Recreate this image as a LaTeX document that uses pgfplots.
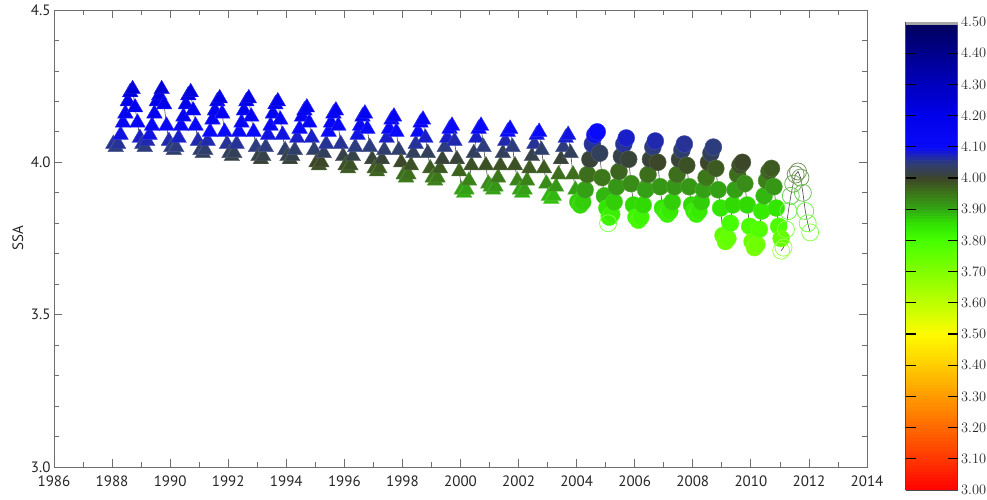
\documentclass[border=0pt]{standalone}
\usepackage{fontspec}
\setmainfont{PT Sans}
\usepackage{pgfplots}
\usepackage{pgfplotstable}
\pgfplotsset{compat=1.18}

% colours sampled every 0.05 from 3.00 to 4.50
\pgfplotsset{colormap={ssa}{
 rgb255=(255,0,0) rgb255=(255,28,0) rgb255=(255,55,0) rgb255=(255,80,0)
 rgb255=(255,105,0) rgb255=(255,130,0) rgb255=(255,155,0) rgb255=(255,180,0)
 rgb255=(255,205,0) rgb255=(255,228,0) rgb255=(255,250,0) rgb255=(222,255,0)
 rgb255=(190,255,0) rgb255=(160,255,0) rgb255=(130,255,0) rgb255=(100,255,0)
 rgb255=(70,255,0) rgb255=(50,230,0) rgb255=(50,170,20) rgb255=(60,120,25)
 rgb255=(60,70,40) rgb255=(45,60,125) rgb255=(10,10,250) rgb255=(5,5,243)
 rgb255=(0,0,235) rgb255=(0,0,212) rgb255=(0,0,190) rgb255=(0,0,165)
 rgb255=(0,0,140) rgb255=(0,0,115) rgb255=(0,0,90)}}

\definecolor{axgray}{RGB}{110,110,110}
\definecolor{linegray}{RGB}{70,70,70}

% Triangles (first instrument)
\pgfplotstableread{
x y
1988.042 4.06
1988.125 4.05
1988.208 4.06
1988.292 4.09
1988.375 4.13
1988.458 4.16
1988.542 4.20
1988.625 4.23
1988.708 4.24
1988.792 4.18
1988.875 4.13
1988.958 4.08
1989.042 4.06
1989.125 4.05
1989.208 4.07
1989.292 4.09
1989.375 4.12
1989.458 4.16
1989.542 4.20
1989.625 4.22
1989.708 4.24
1989.792 4.19
1989.875 4.12
1989.958 4.07
1990.042 4.05
1990.125 4.04
1990.208 4.05
1990.292 4.08
1990.375 4.12
1990.458 4.15
1990.542 4.19
1990.625 4.22
1990.708 4.23
1990.792 4.17
1990.875 4.12
1990.958 4.07
1991.042 4.04
1991.125 4.03
1991.208 4.04
1991.292 4.07
1991.375 4.10
1991.458 4.14
1991.542 4.17
1991.625 4.20
1991.708 4.21
1991.792 4.16
1991.875 4.10
1991.958 4.06
1992.042 4.03
1992.125 4.02
1992.208 4.03
1992.292 4.06
1992.375 4.10
1992.458 4.13
1992.542 4.17
1992.625 4.20
1992.708 4.21
1992.792 4.15
1992.875 4.10
1992.958 4.05
1993.042 4.02
1993.125 4.01
1993.208 4.02
1993.292 4.05
1993.375 4.09
1993.458 4.12
1993.542 4.16
1993.625 4.19
1993.708 4.20
1993.792 4.14
1993.875 4.09
1993.958 4.04
1994.042 4.02
1994.125 4.01
1994.208 4.02
1994.292 4.04
1994.375 4.08
1994.458 4.11
1994.542 4.15
1994.625 4.17
1994.708 4.18
1994.792 4.13
1994.875 4.08
1994.958 4.04
1995.042 4.00
1995.125 3.99
1995.208 4.00
1995.292 4.03
1995.375 4.06
1995.458 4.10
1995.542 4.13
1995.625 4.16
1995.708 4.17
1995.792 4.12
1995.875 4.06
1995.958 4.02
1996.042 3.99
1996.125 3.98
1996.208 3.99
1996.292 4.02
1996.375 4.05
1996.458 4.09
1996.542 4.12
1996.625 4.15
1996.708 4.16
1996.792 4.11
1996.875 4.05
1996.958 4.01
1997.042 3.98
1997.125 3.97
1997.208 3.98
1997.292 4.01
1997.375 4.04
1997.458 4.08
1997.542 4.11
1997.625 4.14
1997.708 4.15
1997.792 4.10
1997.875 4.04
1997.958 4.00
1998.042 3.96
1998.125 3.95
1998.208 3.96
1998.292 3.99
1998.375 4.03
1998.458 4.06
1998.542 4.10
1998.625 4.13
1998.708 4.14
1998.792 4.08
1998.875 4.03
1998.958 3.98
1999.042 3.95
1999.125 3.94
1999.208 3.95
1999.292 3.98
1999.375 4.01
1999.458 4.05
1999.542 4.08
1999.625 4.11
1999.708 4.12
1999.792 4.07
1999.875 4.01
1999.958 3.97
2000.042 3.91
2000.125 3.90
2000.208 3.91
2000.292 3.94
2000.375 3.99
2000.458 4.03
2000.542 4.08
2000.625 4.11
2000.708 4.12
2000.792 4.05
2000.875 3.99
2000.958 3.93
2001.042 3.92
2001.125 3.91
2001.208 3.92
2001.292 3.95
2001.375 3.99
2001.458 4.03
2001.542 4.07
2001.625 4.10
2001.708 4.11
2001.792 4.05
2001.875 3.99
2001.958 3.94
2002.042 3.91
2002.125 3.90
2002.208 3.91
2002.292 3.94
2002.375 3.98
2002.458 4.02
2002.542 4.06
2002.625 4.09
2002.708 4.10
2002.792 4.04
2002.875 3.98
2002.958 3.93
2003.042 3.89
2003.125 3.88
2003.208 3.89
2003.292 3.92
2003.375 3.96
2003.458 4.01
2003.542 4.05
2003.625 4.08
2003.708 4.09
2003.792 4.03
2003.875 3.96
2003.958 3.91
2004.042 3.88
2004.125 3.87
2004.208 3.88
2004.292 3.91
}\tri

% isolated triangles
\pgfplotstableread{
x y
2005.100 3.84
2006.350 3.93
}\trix

% filled circles (second instrument)
\pgfplotstableread{
x y
2004.042 3.87
2004.125 3.86
2004.208 3.87
2004.292 3.91
2004.375 3.96
2004.458 4.01
2004.542 4.06
2004.625 4.09
2004.708 4.10
2004.792 4.03
2004.875 3.95
2004.958 3.89
2005.042 3.85
2005.125 3.82
2005.208 3.83
2005.292 3.87
2005.375 3.92
2005.458 3.97
2005.542 4.02
2005.625 4.06
2005.708 4.08
2005.792 4.01
2005.875 3.93
2005.958 3.86
2006.042 3.82
2006.125 3.81
2006.208 3.82
2006.292 3.86
2006.375 3.91
2006.458 3.96
2006.542 4.01
2006.625 4.05
2006.708 4.07
2006.792 4.00
2006.875 3.92
2006.958 3.85
2007.042 3.84
2007.125 3.83
2007.208 3.84
2007.292 3.87
2007.375 3.92
2007.458 3.96
2007.542 4.01
2007.625 4.04
2007.708 4.06
2007.792 3.99
2007.875 3.92
2007.958 3.86
2008.042 3.84
2008.125 3.83
2008.208 3.84
2008.292 3.87
2008.375 3.91
2008.458 3.95
2008.542 4.00
2008.625 4.03
2008.708 4.05
2008.792 3.98
2008.875 3.91
2008.958 3.85
2009.042 3.76
2009.125 3.74
2009.208 3.75
2009.292 3.80
2009.375 3.86
2009.458 3.91
2009.542 3.96
2009.625 3.99
2009.708 4.00
2009.792 3.93
2009.875 3.86
2009.958 3.79
2010.042 3.74
2010.125 3.72
2010.208 3.73
2010.292 3.78
2010.375 3.84
2010.458 3.89
2010.542 3.94
2010.625 3.97
2010.708 3.98
2010.792 3.92
2010.875 3.85
2010.958 3.79
2011.042 3.75
}\circ

% open circles (third instrument)
\pgfplotstableread{
x y
2011.042 3.71
2011.125 3.72
2011.208 3.78
2011.292 3.84
2011.375 3.89
2011.458 3.93
2011.542 3.96
2011.625 3.97
2011.708 3.95
2011.792 3.90
2011.875 3.84
2011.958 3.80
2012.042 3.77
}\opn

\pgfplotstableread{
x y
2005.083 3.80
}\opnx

\newcommand{\tfont}{\fontsize{15}{18}\selectfont}

\begin{document}
\begin{tikzpicture}
\path[use as bounding box] (-54pt,-33pt) rectangle (933pt,467pt);
\begin{axis}[
  at={(0pt,0pt)}, anchor=south west,
  scale only axis, width=813pt, height=457pt,
  xmin=1986, xmax=2014, ymin=3, ymax=4.5,
  xtick={1986,1988,...,2014}, minor x tick num=1,
  ytick={3,3.5,4,4.5}, minor y tick num=4,
  tick align=inside,
  axis line style={axgray, line width=0.8pt},
  every tick/.style={axgray, line width=0.8pt},
  major tick length=8pt, minor tick length=5pt,
  /pgf/number format/assume math mode=true,
  xticklabel={\pgfmathprintnumber[1000 sep={}, fixed, precision=0]{\tick}},
  yticklabel={\pgfmathprintnumber[fixed, precision=1, fixed zerofill]{\tick}},
  tick label style={font=\tfont, text=black!85},
  xticklabel style={yshift=-5pt},
  ylabel={SSA},
  every axis y label/.style={at={(rel axis cs:0,0.5)}, xshift=-36pt, rotate=90, anchor=center, font=\tfont, text=black!85},
  colormap name=ssa,
  point meta min=3, point meta max=4.5,
  colorbar sampled,
  colorbar style={
    at={(parent axis.south east)}, anchor=south west,
    xshift=30pt, yshift=-23pt,
    scale only axis, width=52pt, height=468pt,
    samples=151,
    xmin=0, xmax=1, xtick=\empty, minor x tick num=0,
    ymin=3, ymax=4.5,
    ytick={3,3.1,3.2,3.3,3.4,3.5,3.6,3.7,3.8,3.9,4.0,4.1,4.2,4.3,4.4,4.5},
    minor y tick num=0,
    yticklabel={\pgfmathprintnumber[fixed, precision=2, fixed zerofill]{\tick}},
    yticklabel style={font=\tfont, text=black!85},
    yticklabel pos=right,
    axis line style={black!70, line width=0.6pt},
    after end axis/.code={
      \foreach \f in {1,...,14} {
        \fill[black] ([yshift=-0.6pt]rel axis cs:0,\f/15) rectangle ([xshift=10pt, yshift=0.6pt]rel axis cs:0,\f/15);
        \fill[black] ([xshift=-10pt, yshift=-0.6pt]rel axis cs:1,\f/15) rectangle ([yshift=0.6pt]rel axis cs:1,\f/15);
      }
      \fill[gray!70] (rel axis cs:0,1) rectangle ([yshift=-3pt]rel axis cs:1,1);
    },
  },
]
\addplot[no marks, linegray, line width=0.6pt] table[x=x,y=y] {\tri};
\addplot[no marks, linegray, line width=0.6pt] table[x=x,y=y] {\circ};
\addplot[no marks, linegray, line width=0.6pt] table[x=x,y=y] {\opn};
\addplot[scatter, only marks, mark=triangle*, mark size=9pt, point meta=y,
  scatter/use mapped color={draw=mapped color!85!white, fill=mapped color}] table[x=x,y=y] {\tri};
\addplot[scatter, only marks, mark=triangle*, mark size=9pt, point meta=y,
  scatter/use mapped color={draw=mapped color!85!white, fill=mapped color}] table[x=x,y=y] {\trix};
\addplot[scatter, only marks, mark=*, mark size=8.5pt, point meta=y,
  scatter/use mapped color={draw=mapped color!85!white, fill=mapped color}] table[x=x,y=y] {\circ};
\addplot[scatter, only marks, mark=o, mark size=8.5pt, point meta=y,
  scatter/use mapped color={draw=mapped color!70!white, line width=0.8pt}] table[x=x,y=y] {\opn};
\addplot[scatter, only marks, mark=o, mark size=8.5pt, point meta=y,
  scatter/use mapped color={draw=mapped color!70!white, line width=0.8pt}] table[x=x,y=y] {\opnx};
\end{axis}
\end{tikzpicture}
\end{document}
